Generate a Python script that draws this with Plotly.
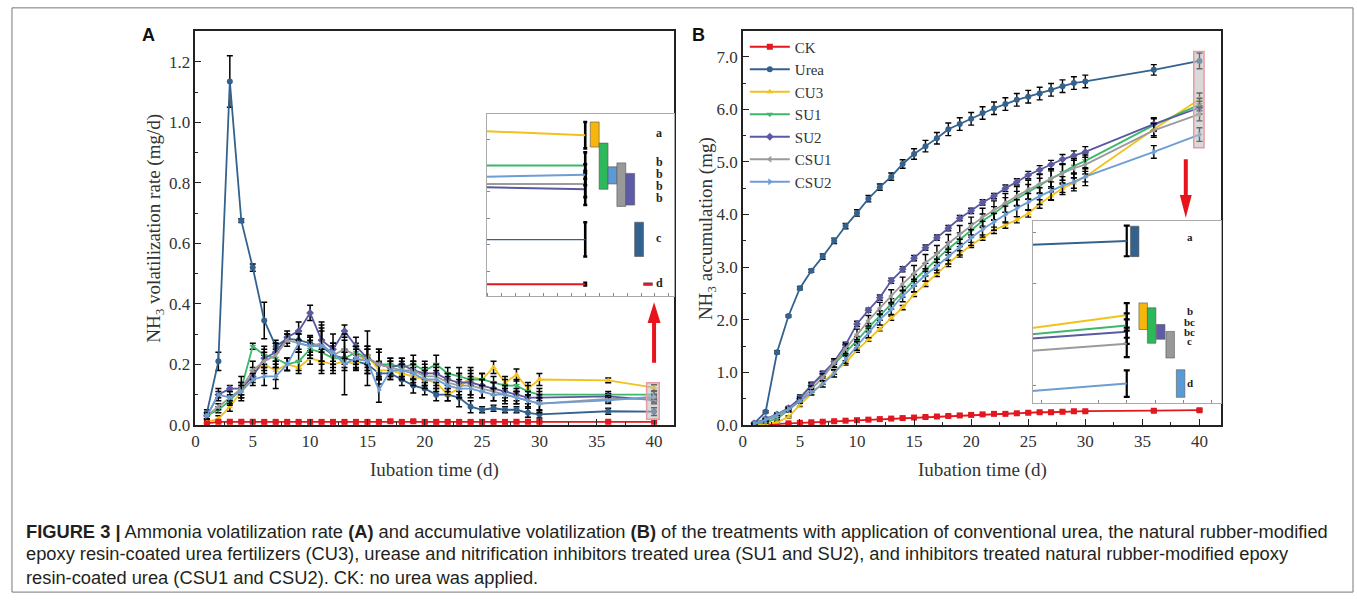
import plotly.graph_objects as go

# ---------------- data ----------------
days = list(range(1, 31)) + [36, 40]
names = ["CK", "Urea", "CU3", "SU1", "SU2", "CSU1", "CSU2"]

rate = {
    "CK":   [0.005, 0.01, 0.01, 0.01, 0.01, 0.01, 0.01, 0.01, 0.01, 0.01, 0.01, 0.01, 0.01, 0.01, 0.01, 0.01,
             0.012, 0.01, 0.012, 0.01, 0.01, 0.01, 0.01, 0.01, 0.01, 0.01, 0.01, 0.01, 0.01, 0.01, 0.01, 0.01],
    "Urea": [0.04, 0.21, 1.135, 0.675, 0.52, 0.345, 0.26, 0.285, 0.28, 0.27, 0.26, 0.23, 0.22, 0.21, 0.20, 0.17,
             0.17, 0.15, 0.13, 0.12, 0.10, 0.10, 0.09, 0.06, 0.05, 0.055, 0.05, 0.05, 0.04, 0.035, 0.045, 0.044],
    "CU3":  [0.01, 0.02, 0.06, 0.11, 0.17, 0.20, 0.18, 0.20, 0.19, 0.22, 0.21, 0.20, 0.21, 0.20, 0.23, 0.18,
             0.18, 0.17, 0.16, 0.15, 0.14, 0.10, 0.12, 0.16, 0.15, 0.19, 0.14, 0.165, 0.12, 0.15, 0.147, 0.123],
    "SU1":  [0.03, 0.05, 0.08, 0.12, 0.26, 0.23, 0.22, 0.20, 0.21, 0.25, 0.24, 0.22, 0.22, 0.24, 0.22, 0.20,
             0.20, 0.19, 0.20, 0.18, 0.20, 0.17, 0.16, 0.15, 0.15, 0.14, 0.13, 0.13, 0.11, 0.10, 0.10, 0.10],
    "SU2":  [0.03, 0.10, 0.12, 0.12, 0.16, 0.22, 0.24, 0.29, 0.31, 0.37, 0.28, 0.25, 0.31, 0.26, 0.22, 0.20,
             0.19, 0.20, 0.18, 0.17, 0.17, 0.15, 0.14, 0.14, 0.13, 0.12, 0.11, 0.10, 0.09, 0.09, 0.094, 0.082],
    "CSU1": [0.03, 0.06, 0.09, 0.12, 0.18, 0.21, 0.23, 0.28, 0.27, 0.26, 0.27, 0.23, 0.25, 0.23, 0.22, 0.20,
             0.19, 0.18, 0.18, 0.16, 0.16, 0.14, 0.13, 0.13, 0.12, 0.11, 0.10, 0.09, 0.08, 0.07, 0.086, 0.086],
    "CSU2": [0.03, 0.10, 0.09, 0.11, 0.15, 0.16, 0.16, 0.20, 0.27, 0.26, 0.26, 0.24, 0.20, 0.22, 0.21, 0.115,
             0.18, 0.18, 0.17, 0.15, 0.15, 0.13, 0.12, 0.12, 0.11, 0.10, 0.10, 0.09, 0.08, 0.07, 0.081, 0.093],
}
rate_err = {
    "CK":   [0.001, 0.002, 0.002, 0.002, 0.002, 0.002, 0.002, 0.002, 0.002, 0.002, 0.002, 0.002, 0.002, 0.002, 0.002, 0.002,
             0.004, 0.002, 0.003, 0.002, 0.002, 0.002, 0.002, 0.002, 0.002, 0.002, 0.002, 0.002, 0.002, 0.002, 0.002, 0.001],
    "Urea": [0.01, 0.03, 0.085, 0.006, 0.012, 0.06, 0.02, 0.015, 0.03, 0.025, 0.08, 0.03, 0.02, 0.025, 0.03, 0.035,
             0.02, 0.02, 0.025, 0.02, 0.02, 0.02, 0.03, 0.02, 0.01, 0.01, 0.01, 0.01, 0.015, 0.012, 0.01, 0.013],
    "CU3":  [0.005, 0.01, 0.015, 0.02, 0.02, 0.03, 0.03, 0.02, 0.02, 0.02, 0.04, 0.03, 0.03, 0.02, 0.03, 0.03,
             0.02, 0.02, 0.03, 0.02, 0.03, 0.02, 0.02, 0.03, 0.02, 0.02, 0.02, 0.02, 0.02, 0.02, 0.008, 0.01],
    "SU1":  [0.01, 0.01, 0.015, 0.02, 0.01, 0.03, 0.03, 0.02, 0.03, 0.03, 0.04, 0.04, 0.03, 0.03, 0.03, 0.04,
             0.02, 0.03, 0.03, 0.03, 0.03, 0.02, 0.03, 0.02, 0.02, 0.02, 0.02, 0.02, 0.02, 0.02, 0.01, 0.01],
    "SU2":  [0.01, 0.01, 0.01, 0.02, 0.02, 0.03, 0.03, 0.02, 0.03, 0.025, 0.04, 0.05, 0.02, 0.03, 0.04, 0.05,
             0.02, 0.02, 0.03, 0.03, 0.03, 0.02, 0.03, 0.04, 0.02, 0.02, 0.02, 0.02, 0.02, 0.02, 0.01, 0.012],
    "CSU1": [0.01, 0.01, 0.02, 0.04, 0.03, 0.03, 0.04, 0.02, 0.03, 0.03, 0.06, 0.04, 0.03, 0.03, 0.09, 0.05,
             0.03, 0.03, 0.03, 0.03, 0.03, 0.03, 0.04, 0.03, 0.03, 0.03, 0.03, 0.02, 0.02, 0.03, 0.01, 0.01],
    "CSU2": [0.01, 0.02, 0.01, 0.02, 0.02, 0.03, 0.04, 0.02, 0.03, 0.03, 0.05, 0.03, 0.10, 0.03, 0.04, 0.04,
             0.03, 0.02, 0.03, 0.03, 0.03, 0.03, 0.03, 0.03, 0.02, 0.02, 0.02, 0.02, 0.02, 0.02, 0.01, 0.008],
}

accum = {
    "CK":   [0.0, 0.01, 0.02, 0.03, 0.04, 0.05, 0.06, 0.07, 0.08, 0.09, 0.10, 0.11, 0.12, 0.13, 0.14, 0.15,
             0.16, 0.17, 0.18, 0.19, 0.20, 0.21, 0.21, 0.22, 0.23, 0.24, 0.24, 0.25, 0.26, 0.26, 0.27, 0.28],
    "Urea": [0.03, 0.25, 1.38, 2.07, 2.60, 2.93, 3.20, 3.50, 3.78, 4.03, 4.30, 4.52, 4.72, 4.96, 5.15, 5.30,
             5.45, 5.62, 5.72, 5.82, 5.93, 6.02, 6.10, 6.18, 6.24, 6.30, 6.37, 6.44, 6.50, 6.53, 6.75, 6.92],
    "CU3":  [0.01, 0.02, 0.05, 0.15, 0.38, 0.60, 0.80, 1.00, 1.18, 1.42, 1.62, 1.82, 2.03, 2.23, 2.48, 2.68,
             2.88, 3.07, 3.25, 3.42, 3.56, 3.70, 3.80, 3.90, 4.02, 4.20, 4.35, 4.50, 4.60, 4.72, 5.62, 6.19],
    "SU1":  [0.02, 0.05, 0.12, 0.28, 0.52, 0.75, 0.95, 1.15, 1.38, 1.60, 1.85, 2.08, 2.30, 2.53, 2.75, 2.95,
             3.15, 3.35, 3.52, 3.70, 3.88, 4.02, 4.18, 4.30, 4.43, 4.55, 4.68, 4.80, 4.92, 5.02, 5.70, 6.09],
    "SU2":  [0.03, 0.12, 0.20, 0.32, 0.50, 0.75, 0.97, 1.20, 1.52, 1.92, 2.18, 2.42, 2.74, 2.96, 3.17, 3.37,
             3.56, 3.74, 3.93, 4.07, 4.23, 4.35, 4.50, 4.62, 4.75, 4.85, 4.95, 5.05, 5.12, 5.19, 5.72, 6.03],
    "CSU1": [0.02, 0.08, 0.16, 0.28, 0.46, 0.68, 0.90, 1.18, 1.45, 1.72, 1.98, 2.22, 2.45, 2.68, 2.88, 3.08,
             3.25, 3.45, 3.62, 3.78, 3.95, 4.08, 4.22, 4.35, 4.47, 4.58, 4.68, 4.78, 4.88, 4.95, 5.60, 5.91],
    "CSU2": [0.02, 0.10, 0.20, 0.30, 0.45, 0.62, 0.78, 0.98, 1.25, 1.50, 1.75, 2.00, 2.20, 2.45, 2.65, 2.85,
             3.02, 3.20, 3.38, 3.56, 3.72, 3.86, 4.00, 4.12, 4.24, 4.35, 4.45, 4.55, 4.62, 4.72, 5.19, 5.52],
}
accum_err = {
    "CK":   [0.005, 0.005, 0.005, 0.01, 0.01, 0.01, 0.01, 0.01, 0.01, 0.01, 0.01, 0.01, 0.01, 0.01, 0.01, 0.01,
             0.01, 0.01, 0.01, 0.01, 0.01, 0.01, 0.01, 0.01, 0.01, 0.01, 0.01, 0.01, 0.01, 0.01, 0.02, 0.02],
    "Urea": [0.01, 0.02, 0.03, 0.02, 0.03, 0.03, 0.05, 0.05, 0.05, 0.06, 0.06, 0.06, 0.07, 0.08, 0.10, 0.11,
             0.11, 0.12, 0.12, 0.12, 0.12, 0.12, 0.12, 0.12, 0.12, 0.12, 0.12, 0.12, 0.12, 0.12, 0.10, 0.15],
    "CU3":  [0.01, 0.01, 0.02, 0.02, 0.03, 0.03, 0.03, 0.04, 0.04, 0.04, 0.03, 0.03, 0.04, 0.04, 0.04, 0.05,
             0.06, 0.06, 0.06, 0.05, 0.05, 0.06, 0.06, 0.06, 0.07, 0.08, 0.08, 0.08, 0.10, 0.10, 0.12, 0.12],
    "SU1":  [0.01, 0.02, 0.02, 0.03, 0.05, 0.06, 0.06, 0.06, 0.07, 0.08, 0.08, 0.09, 0.10, 0.10, 0.11, 0.12,
             0.12, 0.12, 0.13, 0.13, 0.13, 0.13, 0.14, 0.14, 0.14, 0.14, 0.15, 0.15, 0.15, 0.15, 0.12, 0.12],
    "SU2":  [0.01, 0.02, 0.02, 0.03, 0.04, 0.04, 0.05, 0.05, 0.05, 0.05, 0.04, 0.05, 0.05, 0.05, 0.05, 0.05,
             0.05, 0.05, 0.05, 0.05, 0.05, 0.05, 0.06, 0.06, 0.07, 0.08, 0.08, 0.09, 0.09, 0.10, 0.12, 0.12],
    "CSU1": [0.01, 0.02, 0.02, 0.03, 0.05, 0.06, 0.07, 0.08, 0.09, 0.10, 0.10, 0.11, 0.12, 0.13, 0.15, 0.16,
             0.16, 0.17, 0.17, 0.17, 0.17, 0.18, 0.18, 0.18, 0.18, 0.18, 0.18, 0.18, 0.18, 0.18, 0.13, 0.13],
    "CSU2": [0.01, 0.02, 0.02, 0.03, 0.04, 0.05, 0.06, 0.07, 0.08, 0.08, 0.09, 0.10, 0.10, 0.11, 0.12, 0.12,
             0.13, 0.14, 0.15, 0.15, 0.15, 0.16, 0.16, 0.16, 0.16, 0.16, 0.17, 0.17, 0.17, 0.17, 0.12, 0.13],
}

# significance groups at day 40 (floating bars: low/high) and letters
insA_order = ["CU3", "SU1", "CSU2", "CSU1", "SU2", "Urea", "CK"]
insA_low = [0.114, 0.082, 0.086, 0.069, 0.070, 0.031, 0.009]
insA_high = [0.133, 0.117, 0.099, 0.102, 0.094, 0.057, 0.011]
insA_letters = ["a", "b", "b", "b", "b", "c", "d"]
insA_letter_y = [0.125, 0.1025, 0.0936, 0.0846, 0.0757, 0.045, 0.0107]

insB_order = ["Urea", "CU3", "SU1", "SU2", "CSU1", "CSU2"]
insB_low = [6.766, 6.051, 5.916, 5.955, 5.771, 5.385]
insB_high = [7.065, 6.312, 6.264, 6.100, 6.032, 5.656]
insB_letters = ["a", "b", "bc", "bc", "c", "d"]
insB_letter_y = [6.96, 6.235, 6.129, 6.022, 5.935, 5.53]

colors = {"CK": "#E3171F", "Urea": "#34628E", "CU3": "#F3C11C", "SU1": "#3DB86A",
          "SU2": "#5A59A2", "CSU1": "#9B9B9B", "CSU2": "#6C9DD3"}
bar_colors = {"CK": "#E3171F", "Urea": "#34628E", "CU3": "#F6B60C", "SU1": "#2DB85A",
              "SU2": "#5E5CA8", "CSU1": "#999999", "CSU2": "#5B9BD5"}
symbols = {"CK": "square", "Urea": "circle", "CU3": "triangle-up", "SU1": "triangle-down",
           "SU2": "diamond", "CSU1": "triangle-left", "CSU2": "triangle-right"}

# ---------------- layout geometry ----------------
W, H = 1357, 608
def px(x):
    return x / W
def py(y):
    return (H - y) / H

SERIF = "Liberation Serif, Times New Roman, serif"
SANS = "Liberation Sans, Arial, sans-serif"

fig = go.Figure()

draw_order = ["Urea", "CU3", "SU1", "SU2", "CSU1", "CSU2", "CK"]
# Panel A
for n in draw_order:
    fig.add_trace(go.Scatter(
        x=days, y=rate[n], mode="lines+markers", name=n, showlegend=False,
        line=dict(color=colors[n], width=1.8),
        marker=dict(symbol=symbols[n], size=6, color=colors[n]),
        error_y=dict(type="data", array=rate_err[n], color="black", thickness=1.5, width=3),
        xaxis="x", yaxis="y"))
# Panel B (legend)
for n in names:
    fig.add_trace(go.Scatter(
        x=days, y=accum[n], mode="lines+markers", name=n, showlegend=True,
        line=dict(color=colors[n], width=1.8),
        marker=dict(symbol=symbols[n], size=6, color=colors[n]),
        error_y=dict(type="data", array=accum_err[n], color="black", thickness=1.4, width=3),
        xaxis="x2", yaxis="y2"))

# Inset A : zoom at day 40
for n in draw_order:
    fig.add_trace(go.Scatter(
        x=days[-2:], y=rate[n][-2:], mode="lines", showlegend=False,
        line=dict(color=colors[n], width=2),
        error_y=dict(type="data", array=rate_err[n][-2:], color="black", thickness=2.6, width=2),
        xaxis="x3", yaxis="y3"))
barA_w = 0.045
fig.add_trace(go.Bar(
    x=[40.048 + i * barA_w for i in range(len(insA_order))],
    base=insA_low, y=[h - l for h, l in zip(insA_high, insA_low)],
    width=barA_w, marker=dict(color=[bar_colors[n] for n in insA_order], line=dict(width=0.6, color="#555")),
    showlegend=False, xaxis="x3", yaxis="y3"))

# Inset B
for n in draw_order:
    fig.add_trace(go.Scatter(
        x=days[-2:], y=accum[n][-2:], mode="lines", showlegend=False,
        line=dict(color=colors[n], width=2),
        error_y=dict(type="data", array=accum_err[n][-2:], color="black", thickness=2.2, width=3),
        xaxis="x4", yaxis="y4"))
barB_x = [40.073, 40.151, 40.229, 40.312, 40.399, 40.495]
fig.add_trace(go.Bar(
    x=barB_x, base=insB_low, y=[h - l for h, l in zip(insB_high, insB_low)],
    width=0.078, marker=dict(color=[bar_colors[n] for n in insB_order], line=dict(width=0.6, color="#555")),
    showlegend=False, xaxis="x4", yaxis="y4"))

axis_common = dict(showline=True, mirror=True, linecolor="#222", linewidth=1.5,
                   ticks="inside", ticklen=6, tickwidth=1.3, tickcolor="#222",
                   showgrid=False, zeroline=False,
                   tickfont=dict(family=SERIF, size=17, color="#333"))

yd = [py(432), py(32)]
fig.update_layout(
    width=W, height=H, margin=dict(l=0, r=0, t=0, b=0),
    paper_bgcolor="white", plot_bgcolor="white",
    barmode="overlay",
    xaxis=dict(domain=[px(192), px(672)], range=[0, 41.74], dtick=5, tick0=0, anchor="y",
               minor=dict(ticks="inside", ticklen=3, dtick=2.5, tickcolor="#222"), **axis_common),
    yaxis=dict(domain=yd, range=[0, 1.3], dtick=0.2, tickformat=".1f", anchor="x",
               minor=dict(ticks="inside", ticklen=3, dtick=0.1, tickcolor="#222"), **axis_common),
    xaxis2=dict(domain=[px(741), px(1221)], range=[0, 41.92], dtick=5, tick0=0, anchor="y2",
                minor=dict(ticks="inside", ticklen=3, dtick=2.5, tickcolor="#222"), **axis_common),
    yaxis2=dict(domain=yd, range=[0, 7.48], dtick=1, tickformat=".1f", anchor="x2",
                minor=dict(ticks="inside", ticklen=3, dtick=0.5, tickcolor="#222"), **axis_common),
    xaxis3=dict(domain=[px(484), px(672)], range=[39.5, 40.45], anchor="y3",
                showline=True, mirror=True, linecolor="#aaa", linewidth=1, showgrid=False, zeroline=False,
                ticks="inside", ticklen=3, tickcolor="#888", tick0=40, dtick=0.0707, showticklabels=False),
    yaxis3=dict(domain=[py(301), py(116)], range=[0.001, 0.139], anchor="x3",
                showline=True, mirror=True, linecolor="#aaa", linewidth=1, showgrid=False, zeroline=False,
                ticks="inside", ticklen=3, tickcolor="#888", dtick=0.02, showticklabels=False),
    xaxis4=dict(domain=[px(1032), px(1221)], range=[39.138, 40.87], anchor="y4",
                showline=True, mirror=True, linecolor="#aaa", linewidth=1, showgrid=False, zeroline=False,
                ticks="inside", ticklen=3, tickcolor="#888", tick0=40, dtick=0.26, showticklabels=False),
    yaxis4=dict(domain=[py(410), py(225)], range=[5.327, 7.113], anchor="x4",
                showline=True, mirror=True, linecolor="#aaa", linewidth=1, showgrid=False, zeroline=False,
                ticks="inside", ticklen=3, tickcolor="#888", dtick=0.5, showticklabels=False),
    legend=dict(x=px(743), y=py(31), xanchor="left", yanchor="top",
                font=dict(family=SERIF, size=15, color="#333"), bgcolor="rgba(0,0,0,0)",
                tracegroupgap=0, itemwidth=40),
)

annotations = []
def ann(text, x, y, size, family=SERIF, color="#333", angle=0, xanchor="center", xref="paper", yref="paper"):
    annotations.append(dict(text=text, x=x, y=y, xref=xref, yref=yref, showarrow=False,
                            xanchor=xanchor, yanchor="middle", textangle=angle,
                            font=dict(family=family, size=size, color=color)))

ann("<b>A</b>", px(145), py(36), 18, family=SANS, color="#111")
ann("<b>B</b>", px(697), py(36), 18, family=SANS, color="#111")
ann("NH<sub>3</sub> volatilization rate (mg/d)", px(152), py(232), 19, angle=-90)
ann("NH<sub>3</sub> accumulation (mg)", px(705), py(232), 19, angle=-90)
ann("Iubation time (d)", px(432), py(478), 19)
ann("Iubation time (d)", px(981), py(478), 19)
for t, yv in zip(insA_letters, insA_letter_y):
    ann("<b>" + t + "</b>", 40.374, yv, 12, color="#222", xref="x3", yref="y3")
for t, yv in zip(insB_letters, insB_letter_y):
    ann("<b>" + t + "</b>", 40.578, yv, 11, color="#222", xref="x4", yref="y4")

cap = [
    "<b>FIGURE 3 |</b> Ammonia volatilization rate <b>(A)</b> and accumulative volatilization <b>(B)</b> of the treatments with application of conventional urea, the natural rubber-modified",
    "epoxy resin-coated urea fertilizers (CU3), urease and nitrification inhibitors treated urea (SU1 and SU2), and inhibitors treated natural rubber-modified epoxy",
    "resin-coated urea (CSU1 and CSU2). CK: no urea was applied.",
]
for line, yy in zip(cap, [540, 563, 587]):
    ann(line, px(20), py(yy), 18.3, family=SANS, color="#231F20", xanchor="left")

fig.update_layout(annotations=annotations)

# highlight boxes at day 40 derived from data
def box_range(series, errs, keys, pad_lo, pad_hi):
    lo = min(series[k][-1] - errs[k][-1] for k in keys)
    hi = max(series[k][-1] + errs[k][-1] for k in keys)
    return lo - pad_lo, hi + pad_hi

a_lo, a_hi = box_range(rate, rate_err, [k for k in names if k != "CK"], 0.012, 0.006)
b_lo, b_hi = box_range(accum, accum_err, [k for k in names if k != "CK"], 0.12, 0.03)

shapes = [
    dict(type="rect", xref="x", yref="y", x0=39.35, x1=40.45, y0=a_lo, y1=a_hi,
         fillcolor="rgba(185,185,185,0.55)", line=dict(color="#E89AA4", width=1.5), layer="above"),
    dict(type="rect", xref="x2", yref="y2", x0=39.5, x1=40.4, y0=b_lo, y1=b_hi,
         fillcolor="rgba(185,185,185,0.55)", line=dict(color="#E89AA4", width=1.5), layer="above"),
    # arrow A (up)
    dict(type="line", xref="x", yref="y", x0=40, x1=40, y0=0.205, y1=0.345,
         line=dict(color="#E8141C", width=4)),
    dict(type="path", xref="x", yref="y", path="M 39.43 0.337 L 40.57 0.337 L 40 0.405 Z",
         fillcolor="#E8141C", line=dict(color="#E8141C", width=0)),
    # arrow B (down)
    dict(type="line", xref="x2", yref="y2", x0=38.8, x1=38.8, y0=5.05, y1=4.36,
         line=dict(color="#E8141C", width=4)),
    dict(type="path", xref="x2", yref="y2", path="M 38.28 4.37 L 39.32 4.37 L 38.8 3.94 Z",
         fillcolor="#E8141C", line=dict(color="#E8141C", width=0)),
    # outer frame
    dict(type="rect", xref="paper", yref="paper", x0=px(8), x1=px(1353), y0=py(602), y1=py(8),
         line=dict(color="#777", width=1), fillcolor="rgba(0,0,0,0)"),
]
fig.update_layout(shapes=shapes)

fig.write_html("out.html", include_plotlyjs=True, config={"displayModeBar": False})
